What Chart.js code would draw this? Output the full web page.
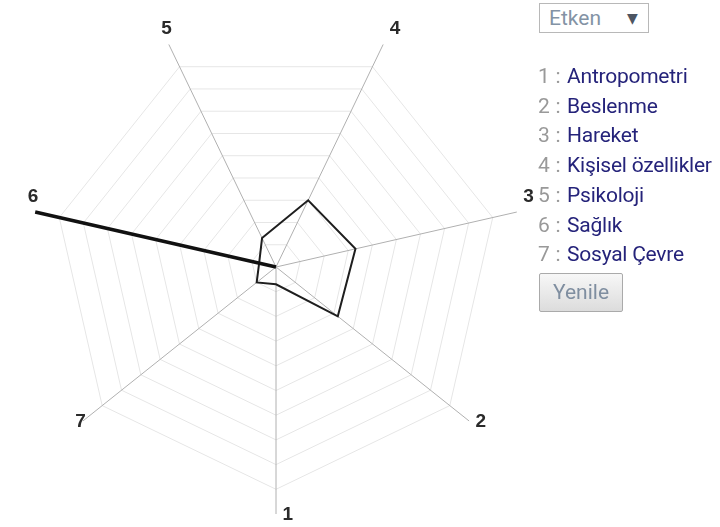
<!DOCTYPE html>
<html>
<head>
<meta charset="utf-8">
<script src="https://cdn.jsdelivr.net/npm/chart.js@4/dist/chart.umd.min.js"></script>
<style>
  html, body { margin:0; padding:0; background:#fff; width:720px; height:527px; overflow:hidden; }
  #wrap { position:absolute; left:0; top:0; width:545px; height:527px; }
  #sel { position:absolute; left:539px; top:3px; width:110px; height:30px; box-sizing:border-box;
         border:1px solid #b8b8b8; background:#fff; font:21px Roboto, sans-serif; color:#8393a5;
         line-height:28px; padding-left:9px; z-index:2; }
  #sel .arr { position:absolute; left:87px; top:0; font:14px "DejaVu Sans", sans-serif; color:#4d5562; line-height:28px; }
  #legend { position:absolute; left:538px; top:62px; font:21px Roboto, sans-serif; line-height:29.7px; z-index:2; white-space:nowrap; }
  #legend .n { color:#999; letter-spacing:0.2px; }
  #legend .t { color:#25237a; margin-left:1px; letter-spacing:-0.25px; }
  #btn { position:absolute; left:539px; top:273px; width:84px; height:39px; box-sizing:border-box;
         border:1px solid #aaa; border-radius:2px; background:linear-gradient(#f7f7f7,#dcdcdc);
         font:21px Roboto, sans-serif; color:#7f8ea0; text-align:center; line-height:37px; z-index:2; }
</style>
</head>
<body>
<div id="wrap"><canvas id="c" width="545" height="527"></canvas></div>
<div id="sel">Etken<span class="arr">▼</span></div>
<div id="legend"></div>
<div id="btn">Yenile</div>
<script>
// ---- data ----
const categories = ['1', '2', '3', '4', '5', '6', '7'];
const factorNames = ['Antropometri', 'Beslenme', 'Hareket', 'Kişisel özellikler', 'Psikoloji', 'Sağlık', 'Sosyal Çevre'];
const scores = [0.7, 3.2, 3.3, 3.0, 1.3, 0.7, 1.0];
const selectedFactor = '6';
const scaleMax = 10;
const scaleStep = 1;

// axes run from the bottom counter-clockwise: 1, 2 (bottom right), 3, 4, 5, 6, 7
const order = [0, 6, 5, 4, 3, 2, 1];
const chartLabels = order.map(i => categories[i]);
const chartScores = order.map(i => scores[i]);
const chartSelected = order.map(i => categories[i] === selectedFactor ? scaleMax : 0);

// legend list (HTML)
const legendEl = document.getElementById('legend');
categories.forEach((c, i) => {
  const row = document.createElement('div');
  const n = document.createElement('span'); n.className = 'n'; n.textContent = c + ' : ';
  const t = document.createElement('span'); t.className = 't'; t.textContent = factorNames[i];
  row.appendChild(n); row.appendChild(t); legendEl.appendChild(row);
});

const axisLabelPlugin = {
  id: 'axisLabels',
  afterDatasetsDraw(chart) {
    const s = chart.scales.r, ctx = chart.ctx;
    const d = s.getDistanceFromCenterForValue(s.max);
    ctx.save();
    ctx.font = 'bold 19px "Liberation Sans", Arial, sans-serif';
    ctx.fillStyle = '#2a2a2a';
    ctx.textBaseline = 'middle';
    chartLabels.forEach((lab, i) => {
      const p = s.getPointPosition(i, d);
      const dx = p.x - s.xCenter, dy = p.y - s.yCenter;
      let x;
      if (dx >= -0.5) { ctx.textAlign = 'left'; x = p.x + 6.5; }
      else { ctx.textAlign = 'right'; x = p.x + 3; }
      const y = dy < 0 ? p.y - 15.5 : p.y + 1;
      ctx.fillText(lab, x, y);
    });
    ctx.restore();
  }
};

new Chart(document.getElementById('c'), {
  type: 'radar',
  data: {
    labels: chartLabels,
    datasets: [
      { label: 'selected', data: chartSelected, borderColor: '#111', borderWidth: 3.5, fill: false,
        backgroundColor: 'rgba(0,0,0,0)', pointRadius: 0 },
      { label: 'score', data: chartScores, borderColor: '#1e1e1e', borderWidth: 2, fill: false,
        backgroundColor: 'rgba(0,0,0,0)', pointRadius: 0 }
    ]
  },
  options: {
    responsive: false,
    animation: false,
    layout: { padding: { left: 29, top: 20, right: 22, bottom: 13 } },
    plugins: { legend: { display: false }, tooltip: { enabled: false } },
    elements: { line: { tension: 0 }, point: { radius: 0, hoverRadius: 0 } },
    scales: {
      r: {
        min: 0, max: scaleMax, startAngle: 180,
        ticks: { display: false, stepSize: scaleStep },
        pointLabels: { display: false },
        grid: { circular: false, lineWidth: 1,
                color: c => (c.tick && c.tick.value >= scaleMax) ? 'rgba(0,0,0,0)' : '#e6e6e6' },
        angleLines: { color: '#b0b0b0', lineWidth: 1 }
      }
    }
  },
  plugins: [axisLabelPlugin]
});
</script>
</body>
</html>
